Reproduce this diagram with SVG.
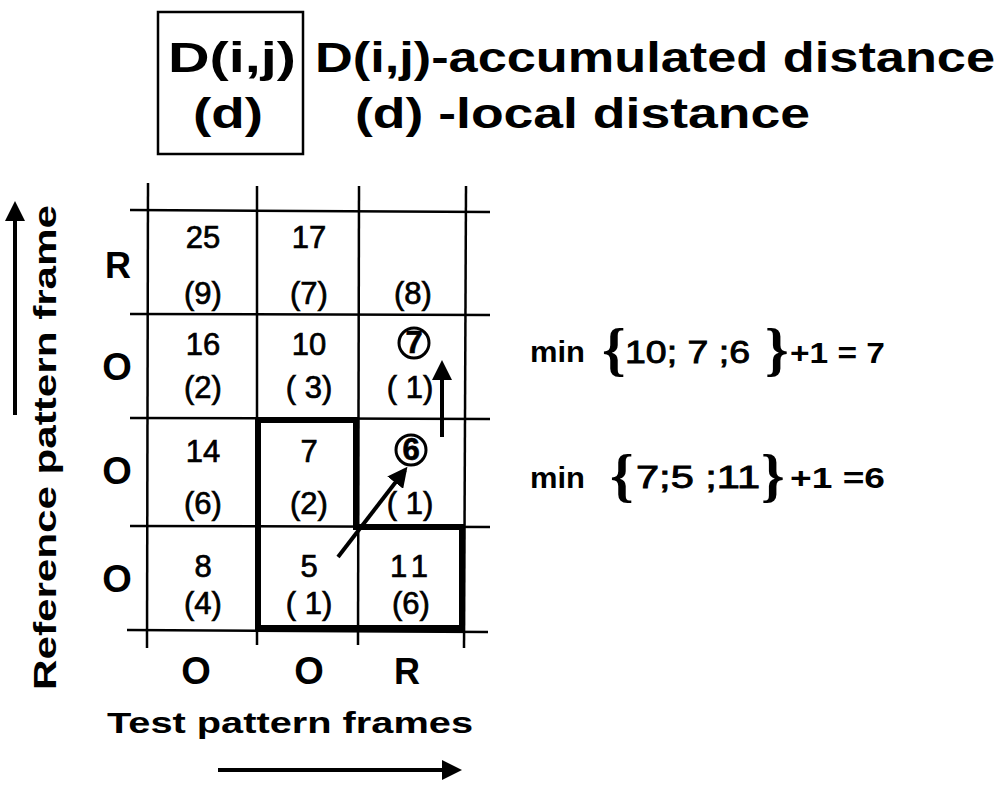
<svg xmlns="http://www.w3.org/2000/svg" width="1000" height="785" viewBox="0 0 1000 785">
<style>
.b{font-family:"Liberation Sans",Arial,sans-serif;font-weight:bold;fill:#000}
.n{font-family:"Liberation Sans",Arial,sans-serif;font-size:31px;fill:#000;stroke:#000;stroke-width:0.7;text-anchor:middle}
.f{font-family:"Liberation Sans",Arial,sans-serif;font-size:32px;fill:#000;stroke:#000;stroke-width:0.9}
.br{font-family:"Liberation Serif",serif;font-size:60px;font-weight:bold;fill:#000}
.g{stroke:#000;stroke-width:2.5;fill:none}
.t{stroke:#000;stroke-width:6;fill:none;stroke-linecap:square}
.c{stroke:#000;stroke-width:3;fill:none}
.a{stroke:#000;stroke-width:4}
</style>
<defs>
<marker id="ah" viewBox="0 0 10 10" refX="8" refY="5" markerWidth="5" markerHeight="5" orient="auto"><path d="M0,0 L10,5 L0,10 z" fill="#000"/></marker>
</defs>
<rect width="1000" height="785" fill="#fff"/>

<g id="legend">
<rect x="158" y="12" width="145" height="142" fill="none" stroke="#000" stroke-width="2.5"/>
<text class="b" x="168" y="72" font-size="42" textLength="128" lengthAdjust="spacingAndGlyphs">D(i,j)</text>
<text class="b" x="193" y="128" font-size="42" textLength="70" lengthAdjust="spacingAndGlyphs">(d)</text>
<text class="b" x="315" y="72" font-size="42" textLength="680" lengthAdjust="spacingAndGlyphs">D(i,j)-accumulated distance</text>
<text class="b" x="355" y="128" font-size="42" textLength="455" lengthAdjust="spacingAndGlyphs">(d) -local distance</text>
</g>

<g id="grid">
<line class="g" x1="130" y1="210" x2="490" y2="212"/>
<line class="g" x1="130" y1="314" x2="490" y2="315"/>
<line class="g" x1="130" y1="418" x2="490" y2="419"/>
<line class="g" x1="130" y1="526" x2="490" y2="527"/>
<line class="g" x1="127" y1="630" x2="488" y2="632"/>
<line class="g" x1="148" y1="183" x2="147" y2="648"/>
<line class="g" x1="257" y1="186" x2="257" y2="645"/>
<line class="g" x1="359" y1="186" x2="358" y2="645"/>
<line class="g" x1="466" y1="186" x2="464" y2="648"/>
</g>

<g id="path-box">
<polyline class="t" points="258,628 258,420 356,420 356,527 462,527 462,628 258,628"/>
</g>

<g id="row-labels">
<text class="b" x="118" y="278" font-size="36" text-anchor="middle">R</text>
<text class="b" x="117" y="380" font-size="38" text-anchor="middle">O</text>
<text class="b" x="117" y="484" font-size="38" text-anchor="middle">O</text>
<text class="b" x="117" y="592" font-size="38" text-anchor="middle">O</text>
</g>
<g id="col-labels">
<text class="b" x="196" y="684" font-size="38" text-anchor="middle">O</text>
<text class="b" x="309" y="684" font-size="38" text-anchor="middle">O</text>
<text class="b" x="407" y="684" font-size="36" text-anchor="middle">R</text>
</g>

<g id="cells">
<text class="n" x="203" y="248">25</text>
<text class="n" x="203" y="304">(9)</text>
<text class="n" x="309" y="248">17</text>
<text class="n" x="309" y="304">(7)</text>
<text class="n" x="413" y="304">(8)</text>

<text class="n" x="203" y="355">16</text>
<text class="n" x="203" y="398">(2)</text>
<text class="n" x="309" y="355">10</text>
<text class="n" x="309" y="398">( 3)</text>
<text class="n" x="414" y="353" font-size="26" font-weight="bold">7</text>
<circle class="c" cx="414" cy="343" r="15"/>
<text class="n" x="410" y="398">( 1)</text>

<text class="n" x="203" y="462">14</text>
<text class="n" x="203" y="514">(6)</text>
<text class="n" x="309" y="462">7</text>
<text class="n" x="309" y="514">(2)</text>
<text class="n" x="411" y="460" font-size="26" font-weight="bold">6</text>
<circle class="c" cx="411" cy="450" r="15"/>
<text class="n" x="410" y="514">( 1)</text>

<text class="n" x="203" y="577">8</text>
<text class="n" x="203" y="614">(4)</text>
<text class="n" x="309" y="577">5</text>
<text class="n" x="309" y="614">( 1)</text>
<text class="n" x="412" y="577" letter-spacing="6">11</text>
<text class="n" x="411" y="614">(6)</text>
</g>

<g id="connectors">
<line class="a" x1="442" y1="437" x2="442" y2="364" marker-end="url(#ah)"/>
<line class="a" x1="338" y1="557" x2="405" y2="470" marker-end="url(#ah)"/>
<line class="a" x1="15" y1="415" x2="15" y2="205" marker-end="url(#ah)"/>
<line class="a" x1="218" y1="770" x2="458" y2="770" marker-end="url(#ah)"/>
</g>

<g id="formula1">
<text class="b" x="530" y="362" font-size="29" textLength="55" lengthAdjust="spacingAndGlyphs">min</text>
<text class="br" x="602" y="369">{</text>
<text class="f" x="625" y="363" textLength="125" lengthAdjust="spacingAndGlyphs">10; 7 ;6</text>
<text class="br" x="765" y="369">}</text>
<text class="b" x="790" y="363" font-size="30" textLength="95" lengthAdjust="spacingAndGlyphs">+1 = 7</text>
</g>
<g id="formula2">
<text class="b" x="530" y="488" font-size="29" textLength="55" lengthAdjust="spacingAndGlyphs">min</text>
<text class="br" x="610" y="495">{</text>
<text class="f" x="636" y="488" textLength="124" lengthAdjust="spacingAndGlyphs">7;5 ;11</text>
<text class="br" x="761" y="495">}</text>
<text class="b" x="790" y="488" font-size="30" textLength="95" lengthAdjust="spacingAndGlyphs">+1 =6</text>
</g>

<g id="axis-labels">
<text class="b" transform="translate(56,690) rotate(-90)" font-size="31" textLength="485" lengthAdjust="spacingAndGlyphs">Reference pattern frame</text>
<text class="b" x="107" y="733" font-size="30" textLength="366" lengthAdjust="spacingAndGlyphs">Test pattern frames</text>
</g>
</svg>
